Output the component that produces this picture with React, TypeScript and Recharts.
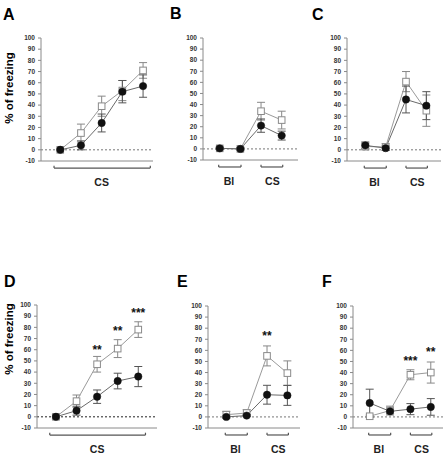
import { ComposedChart, Line, XAxis, YAxis, ErrorBar, ReferenceLine, LabelList } from 'recharts'

const yTicks = [-10, 0, 10, 20, 30, 40, 50, 60, 70, 80, 90, 100]

const csOnly = ['CS']
const blCs = ['Bl', 'CS']

// A
const aFilled = [0, 4, 24, 52, 57]
const aFilledErr = [0, 4, 8, 10, 10]
const aOpen = [0, 15, 39, 53, 71]
const aOpenErr = [0, 8, 9, 9, 7]

// B
const bFilled = [0.5, 0, 21, 12]
const bFilledErr = [1, 1, 6, 4]
const bOpen = [0.5, 0, 34, 26]
const bOpenErr = [1, 1, 8, 8]

// C
const cFilled = [4, 1.5, 45, 39.5]
const cFilledErr = [3, 2, 12, 12.5]
const cOpen = [3, 2.5, 61, 35]
const cOpenErr = [3, 3, 9, 14]

// D
const dFilled = [0, 5.5, 18, 32, 36]
const dFilledErr = [0, 4, 6, 7, 9]
const dOpen = [0, 14, 47, 61, 78]
const dOpenErr = [2, 5.5, 7, 8, 7]
const dStars = ['', '', '**', '**', '***']
const dStarY = [null, null, 60, 77, 93]

// E
const eFilled = [0, 1.2, 20, 19.4]
const eFilledErr = [1, 1, 8.5, 9]
const eOpen = [2, 3.5, 55, 39.5]
const eOpenErr = [3, 3, 9, 11]
const eStars = ['', '', '**', '']
const eStarY = [null, null, 73, null]

// F
const fFilled = [12.5, 5, 7, 9]
const fFilledErr = [12.5, 2, 5, 7.5]
const fOpen = [0.6, 5.7, 38, 40]
const fOpenErr = [1, 4, 4.5, 9.5]
const fStars = ['', '', '***', '**']
const fStarY = [null, null, 50.5, 59]

const csBracketWide = [[-0.3, 4.35]]
const blCsBrackets = [[-0.05, 1.03], [2.0, 3.05]]

type PanelProps = {
  axisX: number
  plotRight: number
  plotTop: number
  plotBottom: number
  domain: [number, number]
  filled: number[]
  filledErr: number[]
  open: number[]
  openErr: number[]
  stars?: string[]
  starY?: (number | null)[]
  labels: string[]
  labelTicks: number[]
  brackets: number[][]
  zeroColor?: string
}

const squareDot = (p: any) => {
  if (p.cx == null || p.cy == null) return <g key={p.index} />
  return (
    <rect
      key={p.index}
      x={p.cx - 3.3}
      y={p.cy - 3.3}
      width={6.6}
      height={6.6}
      fill="#fff"
      stroke="#8a8a8a"
      strokeWidth={1}
    />
  )
}

function Panel({
  axisX,
  plotRight,
  plotTop,
  plotBottom,
  domain,
  filled,
  filledErr,
  open,
  openErr,
  stars,
  starY,
  labels,
  labelTicks,
  brackets,
  zeroColor = '#777',
}: PanelProps) {
  const marginTop = 14
  const yAxisW = 30
  const xAxisH = 34
  const width = yAxisW + (plotRight - axisX) + 1
  const height = marginTop + (plotBottom - plotTop) + xAxisH

  const rows = filled.map((f, i) => ({
    x: i,
    filled: f,
    filledErr: filledErr[i],
    open: open[i],
    openErr: openErr[i],
    starY: starY ? starY[i] : null,
    stars: stars && stars[i] ? stars[i] : undefined,
  }))

  const by = -16.3
  const bt = -14.2

  return (
    <div style={{ position: 'absolute', left: axisX - yAxisW, top: plotTop - marginTop }}>
      <ComposedChart
        width={width}
        height={height}
        data={rows}
        margin={{ top: marginTop, right: 1, left: 0, bottom: 0 }}
      >
        <XAxis
          type="number"
          dataKey="x"
          domain={domain}
          ticks={labelTicks}
          interval={0}
          tickFormatter={(_v: any, i: number) => labels[i]}
          height={xAxisH}
          axisLine={{ stroke: '#8a8a8a' }}
          tickLine={false}
          tickSize={0}
          tickMargin={18}
          tick={{ fontSize: 10.5, fontWeight: 'bold', fill: '#222' }}
        />
        <YAxis
          type="number"
          domain={[-10, 100]}
          ticks={yTicks}
          interval={0}
          width={yAxisW}
          axisLine={{ stroke: '#8a8a8a' }}
          tickLine={{ stroke: '#8a8a8a' }}
          tickSize={3}
          tickMargin={3}
          tick={{ fontSize: 6.5, fontWeight: 'bold', fill: '#333' }}
        />
        <ReferenceLine y={0} stroke={zeroColor} strokeDasharray="2 2" />
        {brackets.map(([a, b], i) => (
          <ReferenceLine
            key={'h' + i}
            segment={[{ x: a, y: by }, { x: b, y: by }]}
            stroke="#555"
            strokeWidth={1.2}
            ifOverflow="visible"
          />
        ))}
        {brackets.map(([a], i) => (
          <ReferenceLine
            key={'l' + i}
            segment={[{ x: a, y: by }, { x: a, y: bt }]}
            stroke="#555"
            strokeWidth={1.2}
            ifOverflow="visible"
          />
        ))}
        {brackets.map(([, b], i) => (
          <ReferenceLine
            key={'r' + i}
            segment={[{ x: b, y: by }, { x: b, y: bt }]}
            stroke="#555"
            strokeWidth={1.2}
            ifOverflow="visible"
          />
        ))}
        <Line
          dataKey="open"
          stroke="#9a9a9a"
          strokeWidth={1}
          dot={squareDot}
          isAnimationActive={false}
        >
          <ErrorBar dataKey="openErr" width={4} stroke="#888" strokeWidth={1} direction="y" />
        </Line>
        <Line
          dataKey="filled"
          stroke="#6a6a6a"
          strokeWidth={1}
          dot={{ r: 3.7, fill: '#111', stroke: '#111', strokeWidth: 0.5 }}
          isAnimationActive={false}
        >
          <ErrorBar dataKey="filledErr" width={4} stroke="#555" strokeWidth={1} direction="y" />
        </Line>
        <Line dataKey="starY" stroke="none" dot={false} isAnimationActive={false}>
          <LabelList dataKey="stars" position="center" fill="#111" fontSize={12} fontWeight="bold" />
        </Line>
      </ComposedChart>
    </div>
  )
}

export default function App() {
  return (
    <div
      style={{
        position: 'absolute',
        left: 0,
        top: 0,
        width: 444,
        height: 456,
        background: '#fff',
        fontFamily: '"Liberation Sans", Arial, sans-serif',
      }}
    >
      <Panel
        axisX={41}
        plotRight={153}
        plotTop={38}
        plotBottom={161}
        domain={[-0.93, 4.48]}
        filled={aFilled}
        filledErr={aFilledErr}
        open={aOpen}
        openErr={aOpenErr}
        labels={csOnly}
        labelTicks={[2]}
        brackets={csBracketWide}
      />
      <Panel
        axisX={203}
        plotRight={298}
        plotTop={38}
        plotBottom={160}
        domain={[-0.81, 3.79]}
        filled={bFilled}
        filledErr={bFilledErr}
        open={bOpen}
        openErr={bOpenErr}
        labels={blCs}
        labelTicks={[0.45, 2.55]}
        brackets={blCsBrackets}
      />
      <Panel
        axisX={347}
        plotRight={441}
        plotTop={38}
        plotBottom={161}
        domain={[-0.9, 3.72]}
        filled={cFilled}
        filledErr={cFilledErr}
        open={cOpen}
        openErr={cOpenErr}
        labels={blCs}
        labelTicks={[0.45, 2.55]}
        brackets={blCsBrackets}
      />
      <Panel
        axisX={37}
        plotRight={157}
        plotTop={305}
        plotBottom={428}
        domain={[-0.92, 4.91]}
        filled={dFilled}
        filledErr={dFilledErr}
        open={dOpen}
        openErr={dOpenErr}
        stars={dStars}
        starY={dStarY}
        labels={csOnly}
        labelTicks={[2]}
        brackets={csBracketWide}
        zeroColor="#222"
      />
      <Panel
        axisX={208}
        plotRight={300}
        plotTop={306}
        plotBottom={428}
        domain={[-0.9, 3.62]}
        filled={eFilled}
        filledErr={eFilledErr}
        open={eOpen}
        openErr={eOpenErr}
        stars={eStars}
        starY={eStarY}
        labels={blCs}
        labelTicks={[0.45, 2.55]}
        brackets={blCsBrackets}
      />
      <Panel
        axisX={353}
        plotRight={443}
        plotTop={306}
        plotBottom={428}
        domain={[-0.82, 3.6]}
        filled={fFilled}
        filledErr={fFilledErr}
        open={fOpen}
        openErr={fOpenErr}
        stars={fStars}
        starY={fStarY}
        labels={blCs}
        labelTicks={[0.45, 2.55]}
        brackets={blCsBrackets}
      />
      <svg
        width={444}
        height={456}
        style={{ position: 'absolute', left: 0, top: 0, pointerEvents: 'none' }}
        fontFamily='"Liberation Sans", Arial, sans-serif'
        fontWeight="bold"
      >
        <text x={3} y={19.5} fontSize={16}>A</text>
        <text x={170} y={19} fontSize={16}>B</text>
        <text x={312} y={19.5} fontSize={16}>C</text>
        <text x={4} y={286.5} fontSize={16}>D</text>
        <text x={177} y={286.5} fontSize={16}>E</text>
        <text x={322} y={286.5} fontSize={16}>F</text>
        <text x={13} y={88} fontSize={11.5} textAnchor="middle" transform="rotate(-90, 13, 88)">
          % of freezing
        </text>
        <text x={13} y={339} fontSize={11.5} textAnchor="middle" transform="rotate(-90, 13, 339)">
          % of freezing
        </text>
      </svg>
    </div>
  )
}
